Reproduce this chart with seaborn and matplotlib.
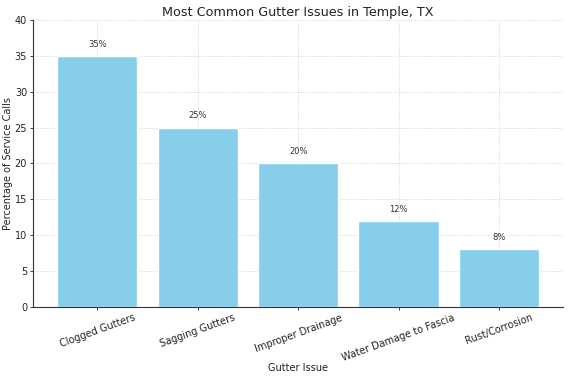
#!/usr/bin/env python3
# plot gutter issues

import matplotlib
matplotlib.use('Agg')
import matplotlib.pyplot as plt
import pandas as pd
import seaborn as sns

issues = ['Clogged Gutters', 'Sagging Gutters', 'Improper Drainage',
          'Water Damage to Fascia', 'Rust/Corrosion']
percentages = [35, 25, 20, 12, 8]


def main():
    sns.set_style('white')
    plt.rcParams['font.family'] = ['DejaVu Sans']
    data = pd.DataFrame({'Gutter Issue': issues, 'Percentage': percentages})

    fig, ax = plt.subplots(figsize=(5.68, 3.77), dpi=100)
    sns.barplot(data=data, x='Gutter Issue', y='Percentage', color='skyblue',
                saturation=1, width=0.8, ax=ax)
    ax.set_xlim(-0.64, len(issues) - 0.36)
    ax.set_ylim(0, 40)
    ax.set_title('Most Common Gutter Issues in Temple, TX', fontsize=9.2,
                 color='#222222', pad=3)
    ax.set_xlabel('Gutter Issue', fontsize=7, color='#222222', labelpad=0)
    ax.set_ylabel('Percentage of Service Calls', fontsize=7, color='#222222',
                  labelpad=1)
    ax.tick_params(axis='both', labelsize=7, colors='#222222', length=2.2,
                   width=0.6, pad=2, bottom=True, left=True)
    plt.setp(ax.get_xticklabels(), rotation=20)
    ax.grid(True, linestyle=':', color='#cccccc', linewidth=0.6)
    ax.set_axisbelow(True)
    for side in ('top', 'right'):
        ax.spines[side].set_visible(False)
    for side in ('left', 'bottom'):
        ax.spines[side].set_color('#333333')
        ax.spines[side].set_linewidth(0.8)

    for p, v in zip(ax.patches, percentages):
        ax.text(p.get_x() + p.get_width() / 2, p.get_height() + 1,
                f'{v}%', ha='center', va='bottom', fontsize=6, color='#333333')

    fig.subplots_adjust(left=0.058, right=0.992, top=0.947, bottom=0.186)
    fig.savefig('out.png')


if __name__ == '__main__':
    main()
